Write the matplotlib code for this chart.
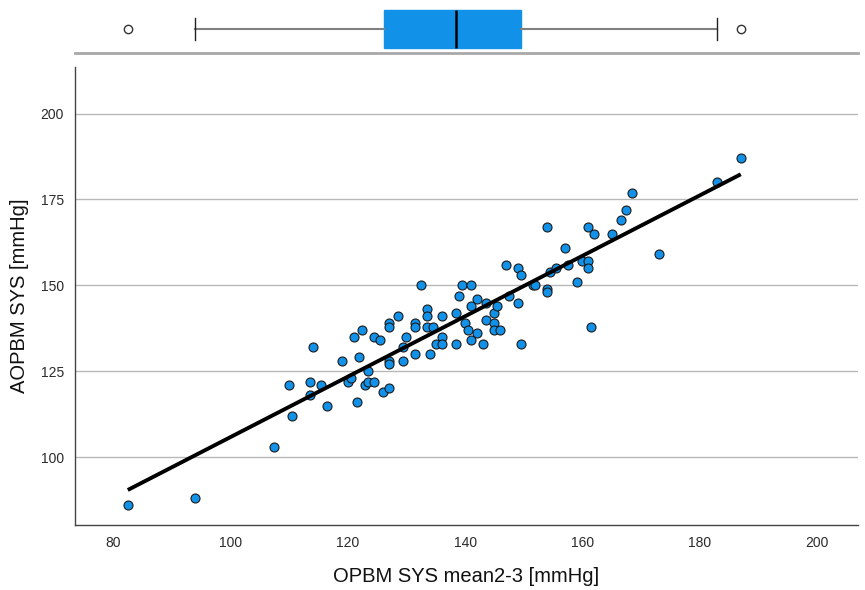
import matplotlib
matplotlib.use('Agg')
import matplotlib.pyplot as plt
import numpy as np

# OPBM SYS mean2-3 [mmHg] (x) and AOPBM SYS [mmHg] (y)
opbm = [82.5, 94, 107.5, 110, 110.5, 113.5, 113.5, 114, 115.5, 116.5,
        119, 120, 120.5, 121, 121.5, 122, 122.5, 123, 123.5, 124.5,
        123.5, 124.5, 125.5, 126, 127, 127, 127, 127, 127, 128.5,
        129.5, 129.5, 130, 131.5, 131.5, 131.5, 132.5, 133.5, 133.5, 133.5,
        134.5, 134, 135, 136, 136, 136, 138.5, 139, 138.5, 139.5,
        141, 140, 140.5, 141, 141, 142, 142, 143, 143.5, 143.5,
        145, 145, 145, 146, 145.5, 147, 147.5, 149, 149, 149.5,
        149.5, 151.5, 152, 154, 154, 154, 154.5, 155.5, 157, 157.5,
        159, 160, 161, 161, 161, 161.5, 162, 165, 166.5, 167.5,
        168.5, 173, 183, 187]
aopbm = [86, 88, 103, 121, 112, 122, 118, 132, 121, 115,
         128, 122, 123, 135, 116, 129, 137, 121, 122, 122,
         125, 135, 134, 119, 120, 128, 127, 139, 138, 141,
         128, 132, 135, 139, 138, 130, 150, 143, 141, 138,
         138, 130, 133, 135, 133, 141, 142, 147, 133, 150,
         150, 139, 137, 144, 134, 146, 136, 133, 145, 140,
         142, 139, 137, 137, 144, 156, 147, 145, 155, 153,
         133, 150, 150, 149, 148, 167, 154, 155, 161, 156,
         151, 157, 157, 155, 167, 138, 165, 165, 169, 172,
         177, 159, 180, 187]

x_ticks = [80, 100, 120, 140, 160, 180, 200]
y_ticks = [100, 125, 150, 175, 200]

blue = '#1192e8'
plt.rcParams['font.family'] = ['Liberation Sans', 'DejaVu Sans']

fig = plt.figure(figsize=(8.65, 5.9), dpi=100)
ax = fig.add_axes([0.0867, 0.110, 0.9053, 0.776])
bx = fig.add_axes([0.0867, 0.910, 0.9053, 0.081], sharex=ax)

# scatter + linear fit
ax.scatter(opbm, aopbm, s=42, color=blue, edgecolor='#1a1a1a', linewidth=0.8, zorder=3)
k, b = np.polyfit(opbm, aopbm, 1)
xs = np.array([min(opbm), max(opbm)])
ax.plot(xs, k * xs + b, color='black', linewidth=2.8, zorder=4, solid_capstyle='butt')

ax.set_xlim(73.5, 207)
ax.set_ylim(80.2, 213.5)
ax.set_xticks(x_ticks)
ax.set_yticks(y_ticks)
ax.tick_params(length=0, labelsize=10, colors='#2a2a2a', pad=8)
ax.yaxis.grid(True, color='#b8b8b8', linewidth=1)
ax.set_axisbelow(True)
for s in ['top', 'right']:
    ax.spines[s].set_visible(False)
for s in ['left', 'bottom']:
    ax.spines[s].set_color('#444444')
    ax.spines[s].set_linewidth(1)
ax.set_xlabel('OPBM SYS mean2-3 [mmHg]', fontsize=14.5, labelpad=12, color='#111111')
ax.set_ylabel('AOPBM SYS [mmHg]', fontsize=14.5, labelpad=8, color='#111111')

# boxplot of x on top
bx.boxplot(opbm, vert=False, positions=[0.5], widths=0.8, patch_artist=True,
           boxprops=dict(facecolor=blue, edgecolor=blue, linewidth=1),
           medianprops=dict(color='black', linewidth=1.8),
           whiskerprops=dict(color='#808080', linewidth=1.5),
           capprops=dict(color='#222222', linewidth=1),
           capwidths=0.45,
           flierprops=dict(marker='o', markersize=6, markerfacecolor='white',
                           markeredgecolor='#333333', markeredgewidth=1))
bx.set_ylim(0, 1)
bx.axis('off')
bx.axhline(0, color='#a8a8a8', linewidth=2, clip_on=False)

fig.savefig('out.png', dpi=100)
